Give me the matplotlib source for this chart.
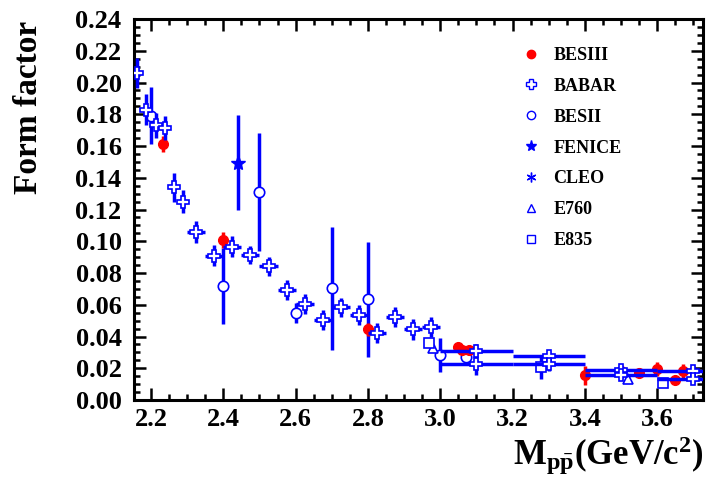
import numpy as np
import matplotlib
matplotlib.use("Agg")
import matplotlib.pyplot as plt
from matplotlib.lines import Line2D
from matplotlib.ticker import MultipleLocator, FormatStrFormatter

plt.rcParams["font.family"] = ["Liberation Serif", "DejaVu Serif"]
plt.rcParams["font.weight"] = "bold"
plt.rcParams["mathtext.fontset"] = "custom"
plt.rcParams["mathtext.rm"] = "Liberation Serif:bold"
plt.rcParams["mathtext.bf"] = "Liberation Serif:bold"
plt.rcParams["mathtext.it"] = "Liberation Serif:bold"

BLUE = "#0000ff"
RED = "#ff0000"

# BESIII
besiii_m = [2.2324, 2.40, 2.80, 3.05, 3.06, 3.08, 3.40, 3.50, 3.55, 3.60, 3.65, 3.671]
besiii_ff = [0.161, 0.1008, 0.0445, 0.0335, 0.0312, 0.0312, 0.0157, 0.0185, 0.0172, 0.0195, 0.0126, 0.0185]
besiii_err = [0.005, 0.005, 0.004, 0.002, 0.002, 0.002, 0.006, 0.0045, 0.003, 0.0045, 0.002, 0.0045]

# BABAR (two results in each of the wide high-mass bins)
babar_m = [2.1625, 2.1875, 2.2125, 2.2375, 2.2625, 2.2875, 2.325, 2.375, 2.425, 2.475,
           2.525, 2.575, 2.625, 2.675, 2.725, 2.775, 2.825, 2.875, 2.925, 2.975,
           3.10, 3.10, 3.30, 3.30, 3.50, 3.50, 3.70, 3.70]
babar_dm = [0.0125] * 6 + [0.025] * 14 + [0.10] * 8
babar_ff = [0.206, 0.183, 0.173, 0.1715, 0.134, 0.125, 0.106, 0.091, 0.0966, 0.0913,
            0.0844, 0.0693, 0.0603, 0.0504, 0.0584, 0.0535, 0.0424, 0.052, 0.0445, 0.0462,
            0.031, 0.0225, 0.0277, 0.0225, 0.0190, 0.0160, 0.0185, 0.0130]
babar_err = [0.0095, 0.0095, 0.008, 0.0075, 0.009, 0.007, 0.007, 0.0066, 0.0066, 0.0058,
             0.006, 0.0063, 0.0063, 0.0063, 0.006, 0.0063, 0.0063, 0.0063, 0.0065, 0.0063,
             0.004, 0.007, 0.0035, 0.004, 0.003, 0.003, 0.0035, 0.003]

# BESII
besii_m = [2.20, 2.40, 2.50, 2.60, 2.70, 2.80, 3.00, 3.07]
besii_ff = [0.179, 0.072, 0.131, 0.0546, 0.0703, 0.0634, 0.0283, 0.0273]
besii_err = [0.018, 0.024, 0.037, 0.0062, 0.039, 0.036, 0.0105, 0.002]

# FENICE
fenice_m = [2.44]
fenice_ff = [0.1495]
fenice_err = [0.030]

# E760
e760_m = [2.98, 3.52]
e760_ff = [0.0326, 0.0130]
e760_err = [0.002, 0.0015]

# E835
e835_m = [2.968, 3.28, 3.615]
e835_ff = [0.0361, 0.021, 0.011]
e835_err = [0.002, 0.0075, 0.0015]

legend_labels = ["BESIII", "BABAR", "BESII", "FENICE", "CLEO", "E760", "E835"]

fig = plt.figure(figsize=(7.08, 4.79), dpi=100)
ax = fig.add_axes([0.1893, 0.1649, 0.8037, 0.7954])

elw = 2.5
ax.errorbar(besii_m, besii_ff, yerr=besii_err, fmt="o", color=BLUE, ms=7.5,
            mfc="white", mec=BLUE, mew=1.2, elinewidth=elw, capsize=0, zorder=3)
ax.errorbar(fenice_m, fenice_ff, yerr=fenice_err, fmt="*", color=BLUE, ms=11,
            elinewidth=elw, capsize=0, zorder=3)
ax.errorbar(e760_m, e760_ff, yerr=e760_err, fmt="^", color=BLUE, ms=7,
            mfc="white", mec=BLUE, mew=1.2, elinewidth=elw, capsize=0, zorder=3)
ax.errorbar(e835_m, e835_ff, yerr=e835_err, fmt="s", color=BLUE, ms=7,
            mfc="white", mec=BLUE, mew=1.2, elinewidth=elw, capsize=0, zorder=3)
ax.errorbar(besiii_m, besiii_ff, yerr=besiii_err, fmt="o", color=RED, ms=7,
            elinewidth=elw, capsize=0, zorder=4)
ax.errorbar(babar_m, babar_ff, xerr=babar_dm, yerr=babar_err, fmt="P", color=BLUE,
            ms=8, mfc="white", mec=BLUE, mew=1.2, elinewidth=elw, capsize=0, zorder=5)

ax.set_xlim(2.153, 3.727)
ax.set_ylim(0, 0.24)

ax.xaxis.set_major_locator(MultipleLocator(0.2))
ax.xaxis.set_minor_locator(MultipleLocator(0.05))
ax.yaxis.set_major_locator(MultipleLocator(0.02))
ax.yaxis.set_minor_locator(MultipleLocator(0.005))
ax.xaxis.set_major_formatter(FormatStrFormatter("%.1f"))
ax.yaxis.set_major_formatter(FormatStrFormatter("%.2f"))

ax.tick_params(which="both", direction="in", top=True, right=True, width=1.8)
ax.tick_params(which="major", length=8.5, labelsize=19)
ax.tick_params(which="minor", length=4.3)
ax.tick_params(axis="y", which="major", pad=9)
ax.tick_params(axis="x", which="major", pad=6)
for spine in ax.spines.values():
    spine.set_linewidth(2.2)

ax.set_xlabel(r"$\mathrm{M_{p\bar{p}}(GeV/c^{2})}$", fontsize=25, loc="right")
ax.xaxis.set_label_coords(1.0, -0.09)
ax.xaxis.label.set_va("top")
ax.set_ylabel("Form factor", fontsize=24, fontweight="bold")
ax.yaxis.set_label_coords(-0.186, 0.769)
ax.yaxis.label.set_va("center")

handles = [
    Line2D([], [], ls="none", marker="o", ms=6, color=RED),
    Line2D([], [], ls="none", marker="P", ms=7, mfc="white", mec=BLUE, mew=1.0),
    Line2D([], [], ls="none", marker="o", ms=6, mfc="white", mec=BLUE, mew=1.0),
    Line2D([], [], ls="none", marker="*", ms=8, color=BLUE),
    Line2D([], [], ls="none", marker=(6, 2, 0), ms=7, color=BLUE, mew=1.0),
    Line2D([], [], ls="none", marker="^", ms=6, mfc="white", mec=BLUE, mew=1.0),
    Line2D([], [], ls="none", marker="s", ms=6, mfc="white", mec=BLUE, mew=1.0),
]
ax.legend(handles, legend_labels, loc="upper left", bbox_to_anchor=(0.682, 0.927),
          frameon=False, handlelength=1.0, handletextpad=0.72,
          labelspacing=0.77, borderpad=0, borderaxespad=0, prop={"weight": "bold", "size": 13})

fig.savefig("out.png", dpi=100)
